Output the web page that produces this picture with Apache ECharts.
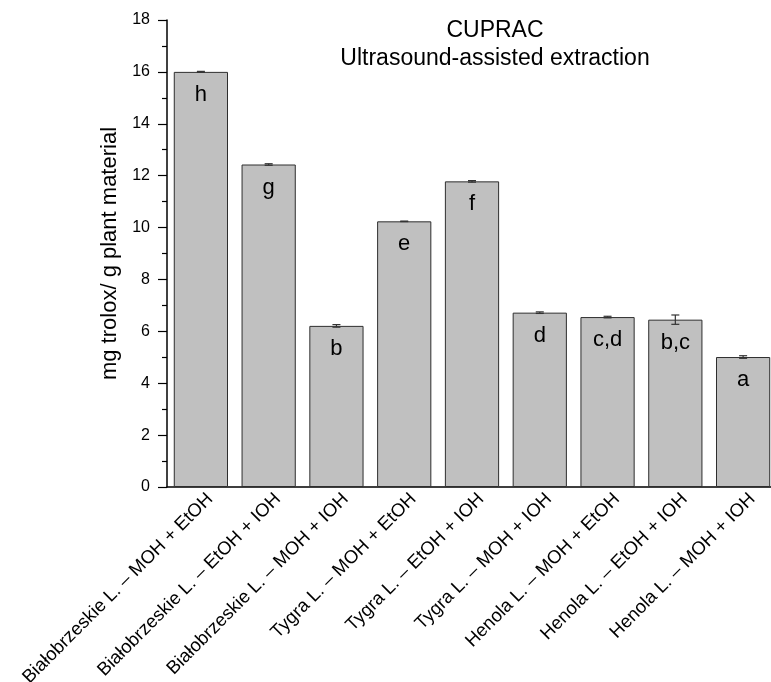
<!DOCTYPE html>
<html>
<head>
<meta charset="utf-8">
<script src="https://cdn.jsdelivr.net/npm/echarts@6/dist/echarts.min.js"></script>
<style>
  html, body { margin: 0; padding: 0; background: #ffffff; }
  #chart { width: 771px; height: 682px; }
</style>
</head>
<body>
<div id="chart"></div>
<script>
// Sample / solvent combinations on the category axis
const categories = [
  'Białobrzeskie L. – MOH + EtOH',
  'Białobrzeskie L. – EtOH + IOH',
  'Białobrzeskie L. – MOH + IOH',
  'Tygra L. – MOH + EtOH',
  'Tygra L. – EtOH + IOH',
  'Tygra L. – MOH + IOH',
  'Henola L. – MOH + EtOH',
  'Henola L. – EtOH + IOH',
  'Henola L. – MOH + IOH'
];

// Mean CUPRAC values (mg trolox / g plant material) and their standard deviations
const means = [16.00, 12.43, 6.21, 10.24, 11.78, 6.72, 6.55, 6.45, 5.01];
const errors = [0.02, 0.03, 0.05, 0.01, 0.03, 0.03, 0.03, 0.18, 0.05];

// Homogeneous-group letters printed inside each bar
const groupLetters = ['h', 'g', 'b', 'e', 'f', 'd', 'c,d', 'b,c', 'a'];

// Value axis range
const yMin = 0;
const yMax = 18;
const yStep = 2;

const FONT = '"Liberation Sans", Arial, Helvetica, sans-serif';

const chart = echarts.init(document.getElementById('chart'), null, { renderer: 'canvas' });

const errorData = means.map((m, i) => [i, m, errors[i]]);

chart.setOption({
  backgroundColor: '#ffffff',
  animation: false,
  textStyle: { fontFamily: FONT },
  title: {
    text: 'CUPRAC\nUltrasound-assisted extraction',
    left: 490,
    top: 12,
    textAlign: 'center',
    textStyle: {
      fontFamily: FONT,
      fontSize: 23,
      fontWeight: 'normal',
      color: '#000000',
      lineHeight: 28
    }
  },
  grid: {
    left: 167,
    right: -6,
    top: 20,
    bottom: 195,
    containLabel: false,
    outerBoundsMode: 'none'
  },
  xAxis: {
    type: 'category',
    data: categories,
    boundaryGap: true,
    axisLine: { show: true, lineStyle: { color: '#000000', width: 1.5 } },
    axisTick: { show: false },
    axisLabel: {
      interval: 0,
      rotate: 45,
      margin: 0,
      align: 'right',
      verticalAlign: 'top',
      lineHeight: 26,
      fontFamily: FONT,
      fontSize: 18.5,
      color: '#000000',
      hideOverlap: false
    },
    splitLine: { show: false }
  },
  yAxis: {
    type: 'value',
    min: yMin,
    max: yMax,
    interval: yStep,
    name: 'mg trolox/ g plant material',
    nameLocation: 'middle',
    nameGap: 46,
    nameTextStyle: { fontFamily: FONT, fontSize: 22, color: '#000000' },
    axisLine: { show: true, lineStyle: { color: '#000000', width: 1.5 } },
    axisTick: { show: true, length: 9, lineStyle: { color: '#000000', width: 1.2 } },
    minorTick: { show: true, splitNumber: 2, length: 5, lineStyle: { color: '#000000', width: 1.2 } },
    axisLabel: { margin: 17, fontFamily: FONT, fontSize: 16, color: '#000000' },
    splitLine: { show: false }
  },
  series: [
    {
      name: 'CUPRAC',
      type: 'bar',
      data: means,
      barWidth: '80%',
      itemStyle: {
        color: '#c0c0c0',
        borderColor: '#2e2e2e',
        borderWidth: 1
      },
      label: {
        show: true,
        position: 'insideTop',
        distance: 12,
        fontFamily: FONT,
        fontSize: 22,
        color: '#000000',
        formatter: (p) => groupLetters[p.dataIndex]
      },
      z: 2
    },
    {
      name: 'SD',
      type: 'custom',
      data: errorData,
      z: 3,
      renderItem: (params, api) => {
        const idx = api.value(0);
        const mean = api.value(1);
        const sd = api.value(2);
        const hi = api.coord([idx, mean + sd]);
        const lo = api.coord([idx, mean - sd]);
        const half = 4;
        const style = { stroke: '#333333', lineWidth: 1.2 };
        return {
          type: 'group',
          children: [
            { type: 'line', shape: { x1: hi[0], y1: hi[1], x2: lo[0], y2: lo[1] }, style },
            { type: 'line', shape: { x1: hi[0] - half, y1: hi[1], x2: hi[0] + half, y2: hi[1] }, style },
            { type: 'line', shape: { x1: lo[0] - half, y1: lo[1], x2: lo[0] + half, y2: lo[1] }, style }
          ]
        };
      }
    }
  ]
});
</script>
</body>
</html>
